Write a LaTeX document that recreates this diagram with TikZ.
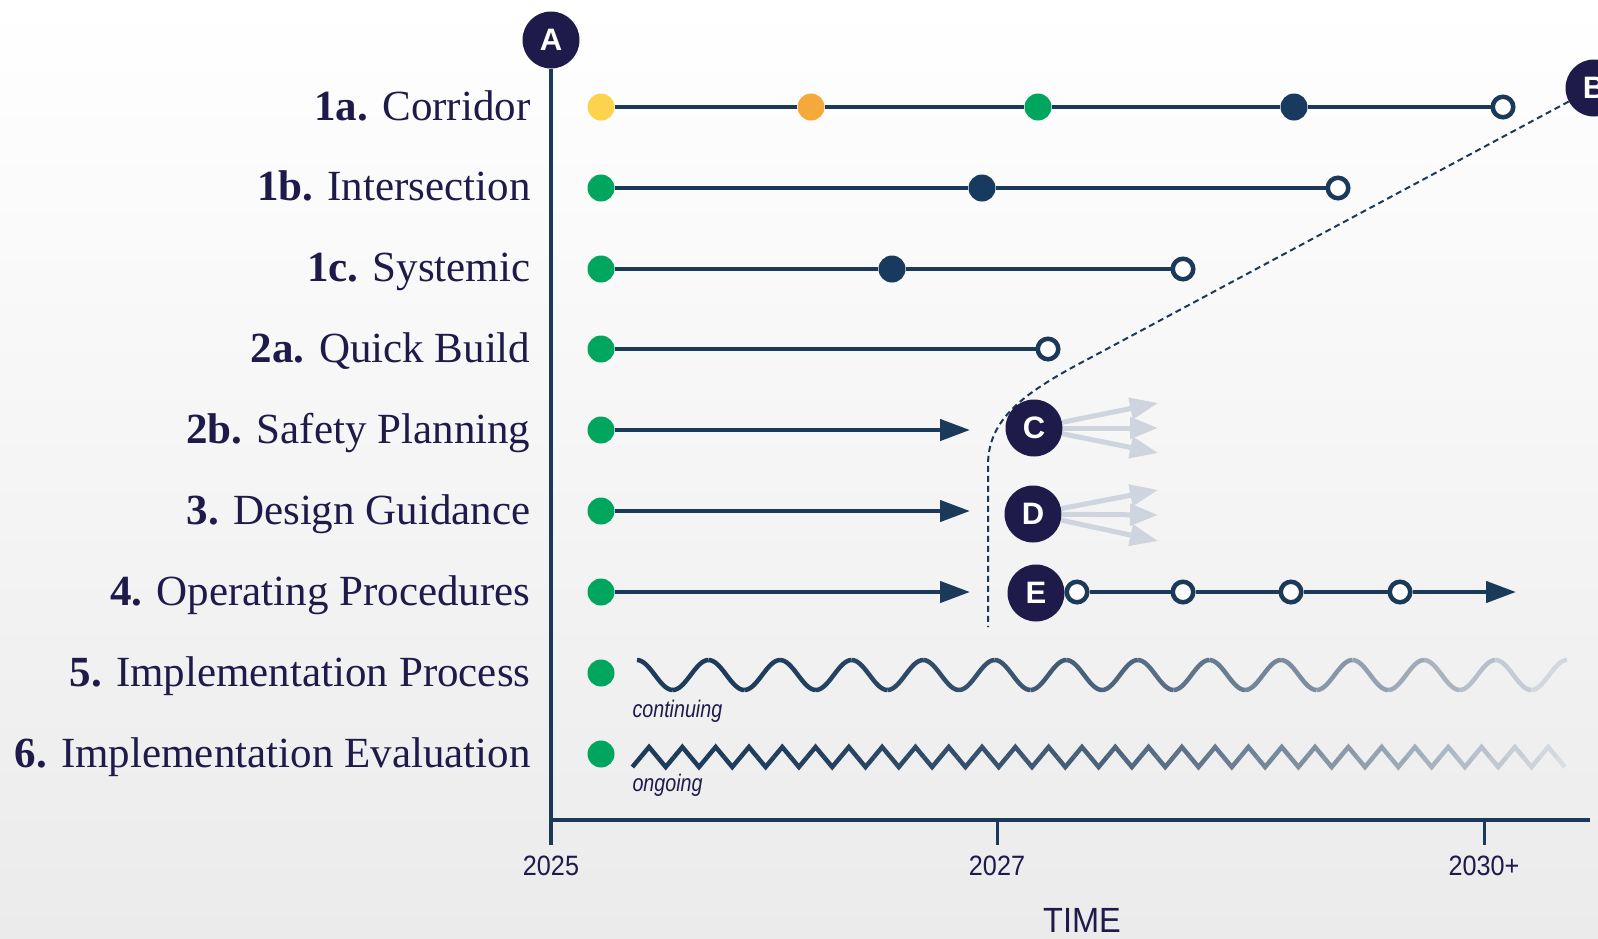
\documentclass[tikz,border=0pt]{standalone}
\usepackage{fontspec}
\setmainfont{Liberation Serif}
\setsansfont{Liberation Sans}
\usepackage{graphicx}
\usetikzlibrary{arrows.meta}

\definecolor{labelc}{HTML}{1E1B4B}
\definecolor{badgec}{HTML}{1E1B4B}
\definecolor{navyline}{HTML}{1B3A5A}
\definecolor{navydot}{HTML}{173A5E}
\definecolor{greendot}{HTML}{00A65E}
\definecolor{yellowdot}{HTML}{FDD34E}
\definecolor{orangedot}{HTML}{F5A93B}
\definecolor{fadegray}{HTML}{D9DDE2}
\definecolor{lightarrow}{HTML}{CED5DE}
\definecolor{bgbottom}{HTML}{EBEBEB}

\begin{document}
\begin{tikzpicture}[x=1pt, y=-1pt, >={Triangle[length=30pt,width=21pt]},
    tline/.style={navyline, line width=4.5pt},
    tdot/.style={circle, fill=#1, minimum size=27pt, inner sep=0pt},
    ring/.style={circle, draw=navyline, line width=4.5pt, fill=white, minimum size=20.5pt, inner sep=0pt},
    badge/.style={circle, fill=badgec, minimum size=57pt, inner sep=0pt, text=white,
      font=\sffamily\bfseries\fontsize{31}{31}\selectfont},
    rowlab/.style={anchor=base east, text=labelc, font=\fontsize{43}{50}\selectfont},
    fan/.style={lightarrow, line width=5pt, -{Triangle[length=28pt,width=21pt]}},
    axisline/.style={navyline, line width=3.5pt},
    yearlab/.style={anchor=base, text=labelc, font=\sffamily\fontsize{28}{28}\selectfont},
    note/.style={anchor=base west, text=labelc, font=\sffamily\itshape\fontsize{24}{24}\selectfont}]

    % 背景
    \useasboundingbox (0,0) rectangle (1598,938);
    \shade[top color=white, bottom color=bgbottom] (0,0) rectangle (1598,938);

    % 座標軸
    \node[badge] (A) at (551,40) {A};
    \coordinate (axbot) at (551,845);
    \coordinate (orig) at (551,820);
    \coordinate (axend) at (1590,820);
    \coordinate (tk2027) at (997,820);
    \coordinate (tk2027b) at (997,845);
    \coordinate (tk2030) at (1484,820);
    \coordinate (tk2030b) at (1484,845);
    \draw[axisline] (A) -- (axbot);
    \draw[axisline, line width=4pt] (orig) -- (axend);
    \draw[axisline, line width=3pt] (tk2027) -- (tk2027b);
    \draw[axisline, line width=3pt] (tk2030) -- (tk2030b);
    \node[yearlab] (y2025) at (551,875) {\scalebox{0.9}[1]{2025}};
    \node[yearlab] (y2027) at (997,875) {\scalebox{0.9}[1]{2027}};
    \node[yearlab] (y2030) at (1484,875) {\scalebox{0.9}[1]{2030+}};
    \node[anchor=base, text=labelc, font=\sffamily\fontsize{35}{35}\selectfont] (timelab) at (1082,932)
      {\scalebox{0.93}[1]{TIME}};

    % 項目名
    \foreach \num/\txt [count=\i from 0] in {1a./Corridor, 1b./Intersection, 1c./Systemic,
        2a./Quick Build, 2b./Safety Planning, 3./Design Guidance, 4./Operating Procedures,
        5./Implementation Process, 6./Implementation Evaluation}
      \node[rowlab] (lab\i) at (534, {120+80.9*\i}) {\textbf{\num} \txt};

    % B から E への破線
    \node[badge] (B) at (1594,88) {B};
    \coordinate (dashend) at (988,627);
    \draw[navyline, line width=2pt, dash pattern=on 6pt off 4pt]
      (B) -- (1090,358) .. controls (1025,392) and (988,418) .. (988,465) -- (dashend);

    % 1a
    \node[tdot=yellowdot] (p1a0) at (601,107) {};
    \node[tdot=orangedot] (p1a1) at (811,107) {};
    \node[tdot=greendot] (p1a2) at (1038,107) {};
    \node[tdot=navydot] (p1a3) at (1294,107) {};
    \node[ring] (p1a4) at (1503,107) {};
    \draw[tline] (p1a0) -- (p1a1) -- (p1a2) -- (p1a3) -- (p1a4);

    % 1b
    \node[tdot=greendot] (p1b0) at (601,188) {};
    \node[tdot=navydot] (p1b1) at (982,188) {};
    \node[ring] (p1b2) at (1338,188) {};
    \draw[tline] (p1b0) -- (p1b1) -- (p1b2);

    % 1c
    \node[tdot=greendot] (p1c0) at (601,269) {};
    \node[tdot=navydot] (p1c1) at (892,269) {};
    \node[ring] (p1c2) at (1183,269) {};
    \draw[tline] (p1c0) -- (p1c1) -- (p1c2);

    % 2a
    \node[tdot=greendot] (p2a0) at (601,349) {};
    \node[ring] (p2a1) at (1048,349) {};
    \draw[tline] (p2a0) -- (p2a1);

    % 2b, 3, 4 : 2027 までの矢印
    \node[tdot=greendot] (p2b0) at (601,430) {};
    \node[tdot=greendot] (p30) at (601,511) {};
    \node[tdot=greendot] (p40) at (601,592) {};
    \coordinate (p2bt) at (970,430);
    \coordinate (p3t) at (970,511);
    \coordinate (p4t) at (970,592);
    \draw[tline, ->] (p2b0) -- (p2bt);
    \draw[tline, ->] (p30) -- (p3t);
    \draw[tline, ->] (p40) -- (p4t);

    % C, D : 分岐
    \node[badge] (C) at (1034,428) {C};
    \node[badge] (D) at (1033,514) {D};
    \coordinate (c1) at (1158,403);
    \coordinate (c2) at (1158,428);
    \coordinate (c3) at (1158,453);
    \coordinate (d1) at (1158,490);
    \coordinate (d2) at (1158,515);
    \coordinate (d3) at (1158,541);
    \draw[fan] (C) -- (c1);
    \draw[fan] (C) -- (c2);
    \draw[fan] (C) -- (c3);
    \draw[fan] (D) -- (d1);
    \draw[fan] (D) -- (d2);
    \draw[fan] (D) -- (d3);

    % E : 定期的な見直し
    \node[badge] (E) at (1036,593) {E};
    \node[ring] (e1) at (1077,592) {};
    \node[ring] (e2) at (1183,592) {};
    \node[ring] (e3) at (1291,592) {};
    \node[ring] (e4) at (1400,592) {};
    \coordinate (e5) at (1516,592);
    \draw[tline, ->] (e1) -- (e2) -- (e3) -- (e4) -- (e5);

    % 5 : 波線 (だんだん薄く)
    \node[tdot=greendot] (p50) at (601,673) {};
    \foreach \k in {0,...,25} {
      \pgfmathtruncatemacro\wp{100*(1-((\k+0.5)/26)^2)}
      \draw[line width=4.5pt, color=navyline!\wp!fadegray]
        plot[domain=0:180, samples=18, variable=\t]
        ({637+35.77*\k+35.77*\t/180}, {675-15*cos(\t+180*\k)});
    }
    \node[note] (cont) at (629,717) {\scalebox{0.82}[1]{continuing}};

    % 6 : ジグザグ
    \node[tdot=greendot] (p60) at (601,754) {};
    \foreach \j in {1,...,55} {
      \pgfmathtruncatemacro\wp{100*(1-(\j/56)^2)}
      \draw[line width=4.5pt, color=navyline!\wp!fadegray, line join=miter]
        ({632.4+16.65*(\j-0.5)}, 757) -- ({632.4+16.65*\j}, {757+10*cos(180*\j)})
        -- ({632.4+16.65*(\j+0.5)}, 757);
    }
    \draw[line width=4.5pt, navyline] (632.4,767) -- (640.7,757);
    \draw[line width=4.5pt, fadegray] ({632.4+16.65*55.5},757) -- ({632.4+16.65*56},767);
    \node[note] (ong) at (629,791) {\scalebox{0.82}[1]{ongoing}};

\end{tikzpicture}
\end{document}
